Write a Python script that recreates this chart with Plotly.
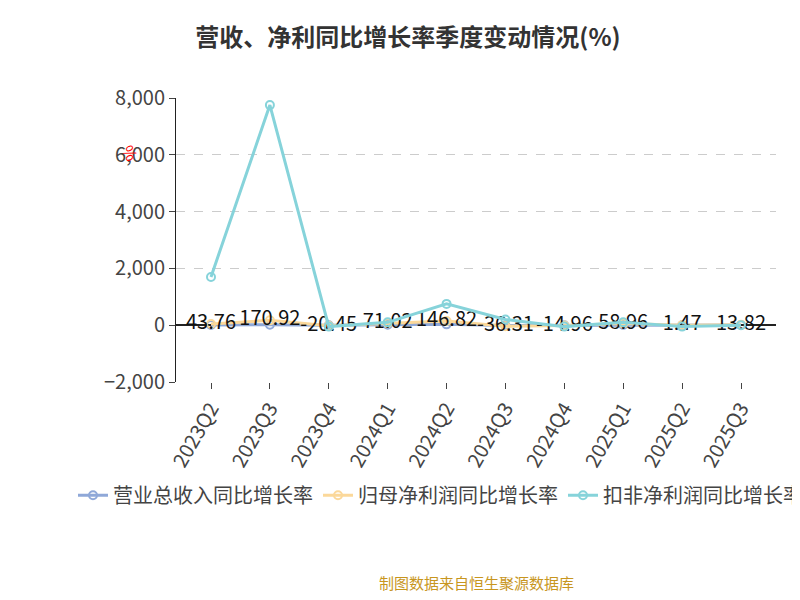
import plotly.graph_objects as go

quarters = ["2023Q2","2023Q3","2023Q4","2024Q1","2024Q2","2024Q3","2024Q4","2025Q1","2025Q2","2025Q3"]
revenue = [10, 20, -5, 15, 30, -8, -4, 12, 1, 5]
net_profit = [43.76, 170.92, -20.45, 71.02, 146.82, -36.31, -14.96, 58.96, 1.47, 13.82]
deducted = [1700, 7750, -50, 100, 750, 200, -50, 100, -50, 0]

fig = go.Figure()
mk = dict(symbol="circle-open", size=8, line=dict(width=2))
fig.add_trace(go.Scatter(x=quarters, y=revenue, name="营业总收入同比增长率", mode="lines+markers",
    line=dict(color="#8fa8d8", width=3), marker=dict(color="#8fa8d8", **mk)))
fig.add_trace(go.Scatter(x=quarters, y=net_profit, name="归母净利润同比增长率", mode="lines+markers+text",
    line=dict(color="#fbd89a", width=3), marker=dict(color="#fbd89a", **mk),
    text=[f"{v:.2f}" for v in net_profit], textposition="middle center",
    textfont=dict(size=20, color="#111")))
fig.add_trace(go.Scatter(x=quarters, y=deducted, name="扣非净利润同比增长率", mode="lines+markers",
    line=dict(color="#86d3da", width=3), marker=dict(color="#86d3da", **mk)))

fig.update_layout(
    width=800, height=600, plot_bgcolor="white", paper_bgcolor="white",
    font=dict(family="Noto Sans CJK SC", color="#444"),
    title=dict(text="<b>营收、净利同比增长率季度变动情况(%)</b>", x=0.5, y=0.965, xanchor="center",
               font=dict(size=24, color="#333")),
    margin=dict(l=168, r=32, t=90, b=226),
    xaxis=dict(showgrid=False, tickangle=-60, tickfont=dict(size=20, color="#444"),
               ticks="outside", ticklen=6, showline=False, zeroline=False),
    yaxis=dict(range=[-2000, 8000], tickvals=[-2000,0,2000,4000,6000,8000],
               tickformat=",", tickfont=dict(size=20, color="#444"),
               showgrid=True, gridcolor="#ccc", griddash="dash",
               zeroline=True, zerolinecolor="#222", zerolinewidth=1.5,
               showline=True, linecolor="#222", ticks="outside", ticklen=6),
    legend=dict(orientation="h", x=-0.12, y=-0.33, xanchor="left", yanchor="top",
                font=dict(size=20, color="#444"), tracegroupgap=0),
    showlegend=True,
)
fig.add_annotation(text="%", x=0, xref="paper", y=0.86, yref="paper", showarrow=False,
                   textangle=60, font=dict(size=16, color="red"), xshift=-62)
fig.add_annotation(text="制图数据来自恒生聚源数据库", x=0.5, xref="paper", y=-0.75, yref="paper",
                   showarrow=False, font=dict(size=15, color="#c8961e"))
fig.write_html("out.html")
